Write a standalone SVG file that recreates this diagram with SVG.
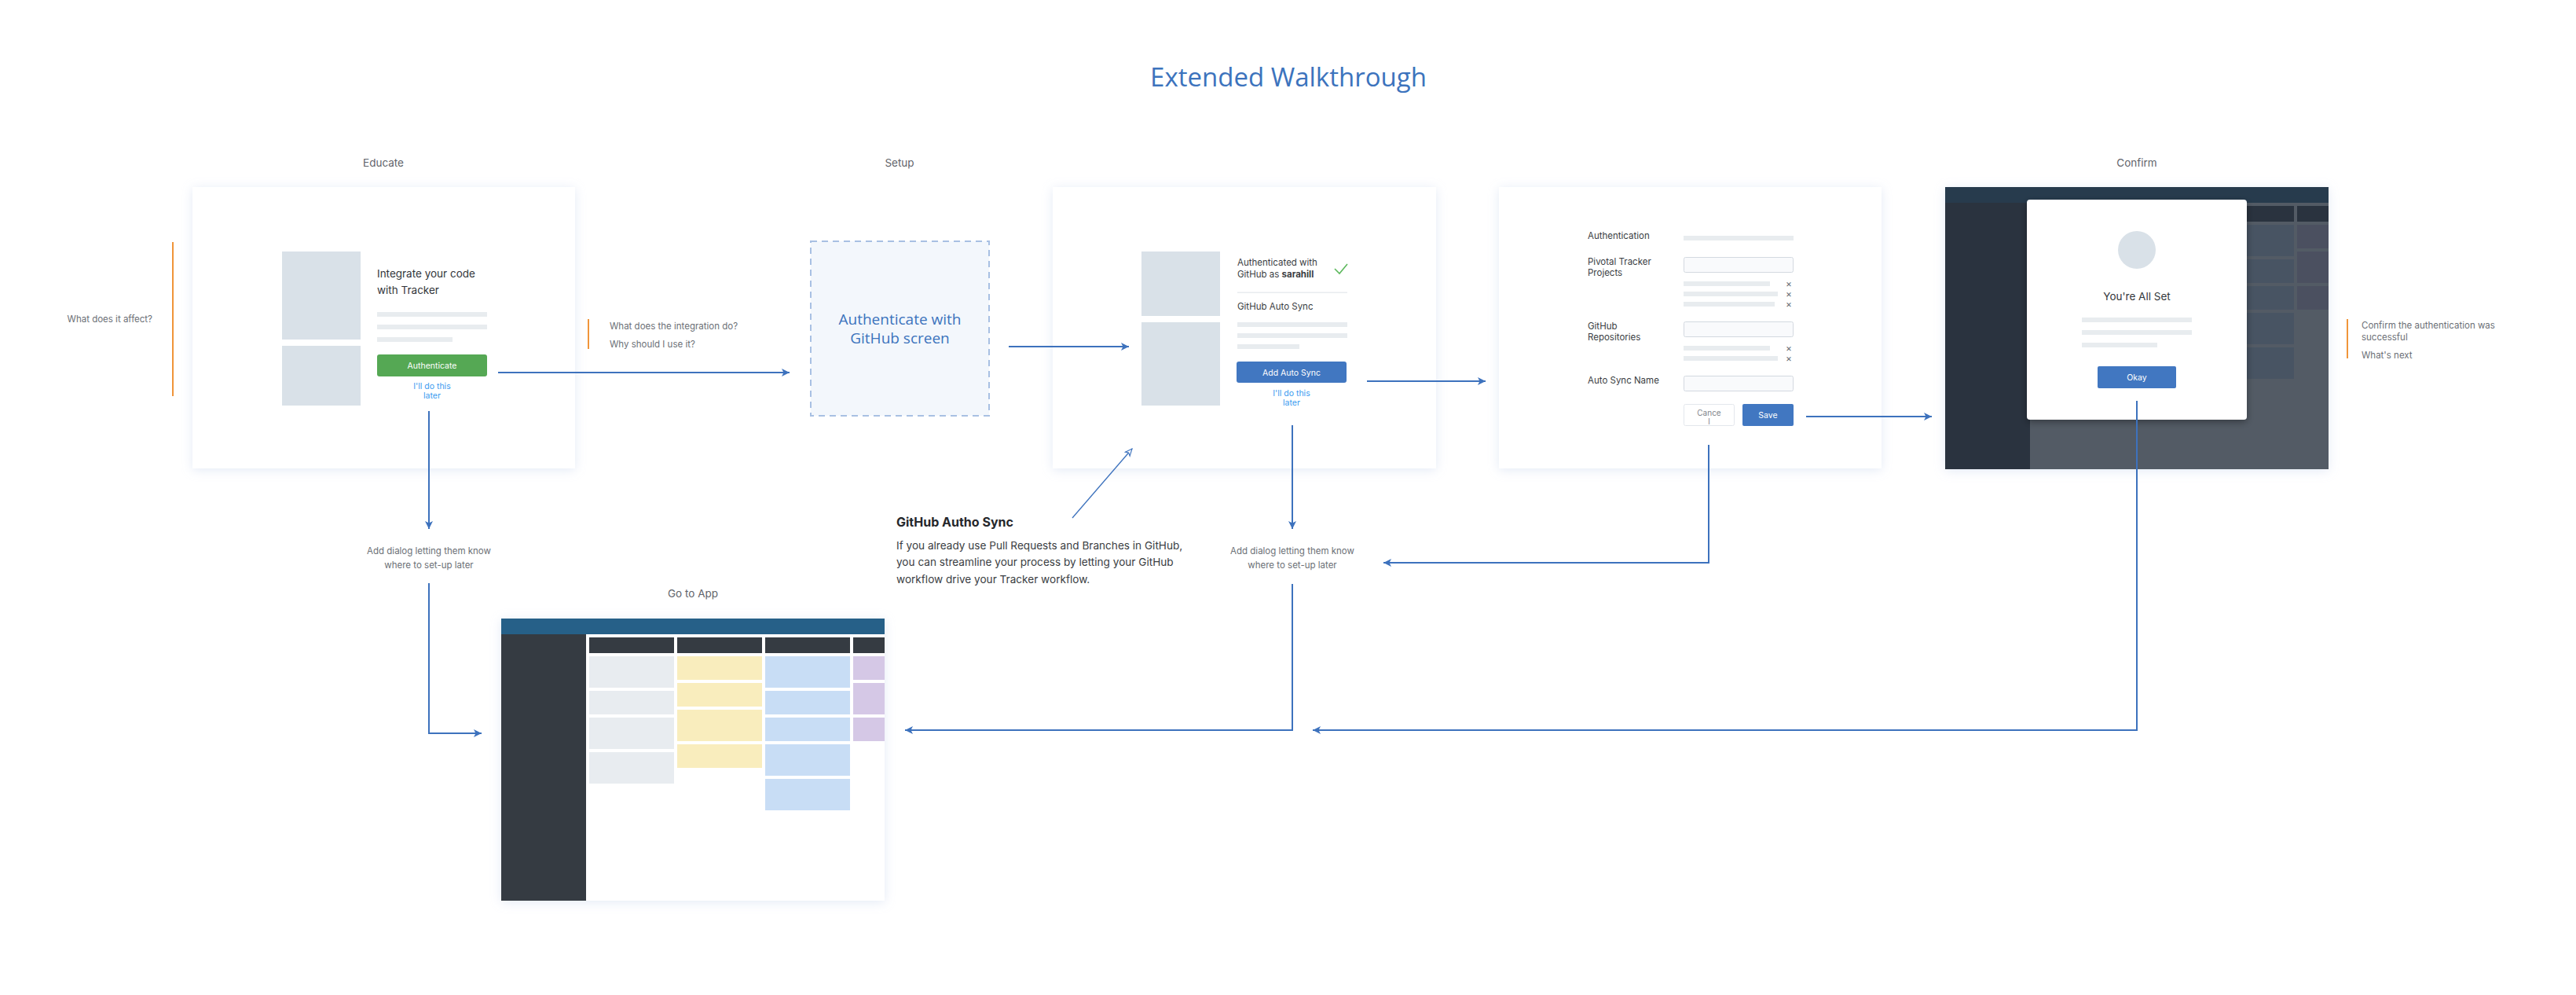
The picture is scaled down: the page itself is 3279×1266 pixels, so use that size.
<svg xmlns="http://www.w3.org/2000/svg" width="3279" height="1266" viewBox="0 0 3279 1266">
<style>
.t{font-family:Inter,"Noto Sans","Liberation Sans",sans-serif}
.os{font-family:"Open Sans","Noto Sans","Liberation Sans",sans-serif}
.lbl{font-size:13.5px;fill:#5f636a}
.note{font-size:11.5px;fill:#6b6f76}
.ui{font-size:11.5px;fill:#3a3d42}
.head{font-size:13.5px;fill:#33363b}
.btn{font-size:10.5px;fill:#ffffff}
.link{font-size:10.5px;fill:#3b9bf0}
.x{font-size:12px;fill:#6b6f76}
.card{fill:#ffffff;filter:url(#sh)}
.ph{fill:#d9e1e8}
.bar{fill:#e8ecef}
.inp{fill:#f9fafc;stroke:#d3d9e0;stroke-width:1}
.conn{fill:none;stroke:#3d72bd;stroke-width:2}
.thin{fill:none;stroke:#3d72bd;stroke-width:1.3}
.orange{stroke:#f0953a;stroke-width:2}
.blue{fill:#4177c1}
</style>
<defs>
<filter id="sh" x="-10%" y="-10%" width="120%" height="120%">
<feDropShadow dx="0" dy="2" stdDeviation="7" flood-color="#b9cbe8" flood-opacity="0.4"/>
</filter>
<filter id="msh" x="-10%" y="-10%" width="120%" height="120%">
<feDropShadow dx="0" dy="3" stdDeviation="5" flood-color="#000000" flood-opacity="0.35"/>
</filter>
<marker id="ah" viewBox="0 0 10 10" refX="10" refY="5" markerWidth="10" markerHeight="10" markerUnits="userSpaceOnUse" orient="auto">
<path d="M0,0 L10,5 L0,10 L2.5,5 z" fill="#3d72bd"/>
</marker>
<marker id="oh" viewBox="0 0 10 10" refX="9" refY="5" markerWidth="11" markerHeight="11" markerUnits="userSpaceOnUse" orient="auto">
<path d="M1,1.5 L9,5 L1,8.5 L3,5 z" fill="#ffffff" stroke="#3d72bd" stroke-width="1"/>
</marker>
<g id="appScreen">
<rect x="0" y="0" width="488" height="359" fill="#ffffff"/>
<rect x="0" y="0" width="488" height="20" fill="#256088"/>
<rect x="0" y="20" width="108" height="339" fill="#363a43"/>
<g fill="#363a43">
<rect x="112" y="24" width="108" height="20"/>
<rect x="224" y="24" width="108" height="20"/>
<rect x="336" y="24" width="108" height="20"/>
<rect x="448" y="24" width="40" height="20"/>
</g>
<g fill="#e8ecf0">
<rect x="112" y="48" width="108" height="40"/>
<rect x="112" y="92" width="108" height="30"/>
<rect x="112" y="126" width="108" height="40"/>
<rect x="112" y="170" width="108" height="40"/>
</g>
<g fill="#f9edbd">
<rect x="224" y="48" width="108" height="30"/>
<rect x="224" y="82" width="108" height="30"/>
<rect x="224" y="116" width="108" height="40"/>
<rect x="224" y="160" width="108" height="30"/>
</g>
<g fill="#c8ddf5">
<rect x="336" y="48" width="108" height="40"/>
<rect x="336" y="92" width="108" height="30"/>
<rect x="336" y="126" width="108" height="30"/>
<rect x="336" y="160" width="108" height="40"/>
<rect x="336" y="204" width="108" height="40"/>
</g>
<g fill="#d5c8e6">
<rect x="448" y="48" width="40" height="30"/>
<rect x="448" y="82" width="40" height="40"/>
<rect x="448" y="126" width="40" height="30"/>
</g>
</g>
</defs>

<rect x="0" y="0" width="3279" height="1266" fill="#ffffff"/>

<text class="os" x="1640" y="110" font-size="33" fill="#3c73bd" text-anchor="middle">Extended Walkthrough</text>

<g id="labels" class="t lbl" text-anchor="middle">
<text x="488" y="212">Educate</text>
<text x="1145" y="212">Setup</text>
<text x="2720" y="212">Confirm</text>
<text x="882" y="760">Go to App</text>
</g>

<g id="note-affect">
<line class="orange" x1="220" y1="308" x2="220" y2="504"/>
<text class="t note" x="194" y="410" text-anchor="end">What does it affect?</text>
</g>

<g id="educate">
<rect class="card" x="245" y="238" width="487" height="358"/>
<rect class="ph" x="359" y="320" width="100" height="112"/>
<rect class="ph" x="359" y="440" width="100" height="76"/>
<text class="t head" x="480" y="353">Integrate your code</text>
<text class="t head" x="480" y="374">with Tracker</text>
<rect class="bar" x="480" y="397" width="140" height="6"/>
<rect class="bar" x="480" y="413" width="140" height="6"/>
<rect class="bar" x="480" y="429" width="96" height="6"/>
<rect x="480" y="451" width="140" height="28" rx="3" fill="#55a854"/>
<text class="t btn" x="550" y="468.5" text-anchor="middle">Authenticate</text>
<text class="t link" x="550" y="495" text-anchor="middle">I'll do this</text>
<text class="t link" x="550" y="506.5" text-anchor="middle">later</text>
</g>

<g id="note-integration">
<line class="orange" x1="749" y1="406" x2="749" y2="444"/>
<text class="t note" x="776" y="419">What does the integration do?</text>
<text class="t note" x="776" y="442">Why should I use it?</text>
</g>

<g id="setup">
<rect x="1032" y="307" width="227" height="222" fill="#f3f7fc" stroke="#a8c0e3" stroke-width="2" stroke-dasharray="8 6"/>
<text class="os" x="1145.5" y="413" font-size="19" fill="#3c73bd" text-anchor="middle">Authenticate with</text>
<text class="os" x="1145.5" y="437" font-size="19" fill="#3c73bd" text-anchor="middle">GitHub screen</text>
</g>

<g id="autosync">
<rect class="card" x="1340" y="238" width="488" height="358"/>
<rect class="ph" x="1453" y="320" width="100" height="82"/>
<rect class="ph" x="1453" y="410" width="100" height="106"/>
<text class="t ui" x="1575" y="338">Authenticated with</text>
<text class="t ui" x="1575" y="353">GitHub as <tspan font-weight="bold">sarahill</tspan></text>
<polyline points="1699,342 1705,348 1715,336" fill="none" stroke="#5cb85c" stroke-width="1.6"/>
<rect class="bar" x="1575" y="371.5" width="140" height="1.5"/>
<text class="t ui" x="1575" y="394">GitHub Auto Sync</text>
<rect class="bar" x="1575" y="410" width="140" height="6"/>
<rect class="bar" x="1575" y="424" width="140" height="6"/>
<rect class="bar" x="1575" y="438" width="79" height="6"/>
<rect class="blue" x="1574" y="460" width="140" height="27" rx="3"/>
<text class="t btn" x="1644" y="477.5" text-anchor="middle">Add Auto Sync</text>
<text class="t link" x="1644" y="504" text-anchor="middle">I'll do this</text>
<text class="t link" x="1644" y="515.5" text-anchor="middle">later</text>
</g>

<g id="settings">
<rect class="card" x="1908" y="238" width="487" height="358"/>
<text class="t ui" x="2021" y="304">Authentication</text>
<rect class="bar" x="2143" y="300" width="140" height="6"/>
<text class="t ui" x="2021" y="337">Pivotal Tracker</text>
<text class="t ui" x="2021" y="351">Projects</text>
<rect class="inp" x="2143.5" y="327.5" width="139" height="19" rx="2"/>
<rect class="bar" x="2143" y="358" width="110" height="6"/>
<rect class="bar" x="2143" y="371" width="120" height="6"/>
<rect class="bar" x="2143" y="384" width="116" height="6"/>
<text class="t x" x="2277" y="365" text-anchor="middle">×</text>
<text class="t x" x="2277" y="378" text-anchor="middle">×</text>
<text class="t x" x="2277" y="391" text-anchor="middle">×</text>
<text class="t ui" x="2021" y="419">GitHub</text>
<text class="t ui" x="2021" y="433">Repositories</text>
<rect class="inp" x="2143.5" y="409.5" width="139" height="19" rx="2"/>
<rect class="bar" x="2143" y="440" width="110" height="6"/>
<rect class="bar" x="2143" y="453" width="120" height="6"/>
<text class="t x" x="2277" y="447" text-anchor="middle">×</text>
<text class="t x" x="2277" y="460" text-anchor="middle">×</text>
<text class="t ui" x="2021" y="488">Auto Sync Name</text>
<rect class="inp" x="2143.5" y="478.5" width="139" height="19" rx="2"/>
<rect x="2143.5" y="514.5" width="64" height="27" rx="2" fill="#ffffff" stroke="#e3e7ec" stroke-width="1"/>
<text class="t" x="2175.5" y="529" font-size="10" fill="#80848a" text-anchor="middle">Cance</text>
<text class="t" x="2175.5" y="540" font-size="10" fill="#80848a" text-anchor="middle">l</text>
<rect class="blue" x="2218" y="514" width="65" height="28" rx="2"/>
<text class="t btn" x="2250.5" y="532" text-anchor="middle">Save</text>
</g>

<g id="confirm">
<g filter="url(#sh)"><use href="#appScreen" x="2476" y="238"/></g>
<rect x="2476" y="238" width="488" height="359" fill="#28323f" fill-opacity="0.8"/>
<rect x="2580" y="254" width="280" height="280" rx="4" fill="#ffffff" filter="url(#msh)"/>
<circle cx="2720" cy="318" r="24" fill="#d9e1e8"/>
<text class="t head" x="2720" y="382" text-anchor="middle">You're All Set</text>
<rect class="bar" x="2650" y="404" width="140" height="6"/>
<rect class="bar" x="2650" y="420" width="140" height="6"/>
<rect class="bar" x="2650" y="436" width="96" height="6"/>
<rect class="blue" x="2670" y="466" width="100" height="28" rx="2"/>
<text class="t btn" x="2720" y="484" text-anchor="middle">Okay</text>
</g>

<g id="note-confirm">
<line class="orange" x1="2988" y1="406" x2="2988" y2="456"/>
<text class="t note" x="3006" y="418">Confirm the authentication was</text>
<text class="t note" x="3006" y="433">successful</text>
<text class="t note" x="3006" y="456">What's next</text>
</g>

<g id="note-later-1" class="t note" text-anchor="middle">
<text x="546" y="705">Add dialog letting them know</text>
<text x="546" y="723">where to set-up later</text>
</g>

<g id="note-later-2" class="t note" text-anchor="middle">
<text x="1645" y="705">Add dialog letting them know</text>
<text x="1645" y="723">where to set-up later</text>
</g>

<g id="callout">
<text class="t" x="1141" y="670" font-size="16" font-weight="bold" fill="#25272b">GitHub Autho Sync</text>
<text class="t" x="1141" y="699" font-size="13.6" fill="#3a3d42">If you already use Pull Requests and Branches in GitHub,</text>
<text class="t" x="1141" y="720" font-size="13.6" fill="#3a3d42">you can streamline your process by letting your GitHub</text>
<text class="t" x="1141" y="742" font-size="13.6" fill="#3a3d42">workflow drive your Tracker workflow.</text>
</g>

<g id="goToApp">
<g filter="url(#sh)"><use href="#appScreen" x="638" y="787"/></g>
</g>

<g id="connectors">
<path class="conn" d="M634,474 H1005" marker-end="url(#ah)"/>
<path class="conn" d="M1284,441 H1437" marker-end="url(#ah)"/>
<path class="conn" d="M1740,485 H1891" marker-end="url(#ah)"/>
<path class="conn" d="M2299,530 H2459" marker-end="url(#ah)"/>
<path class="conn" d="M546,523 V673" marker-end="url(#ah)"/>
<path class="conn" d="M546,742 V933 H613" marker-end="url(#ah)"/>
<path class="conn" d="M1645,541 V673" marker-end="url(#ah)"/>
<path class="conn" d="M1645,743 V929 H1152" marker-end="url(#ah)"/>
<path class="conn" d="M2175,566 V716 H1761" marker-end="url(#ah)"/>
<path class="conn" d="M2720,510 V929 H1671" marker-end="url(#ah)"/>
<path class="thin" d="M1365,659 L1441,571" marker-end="url(#oh)"/>
</g>
</svg>
